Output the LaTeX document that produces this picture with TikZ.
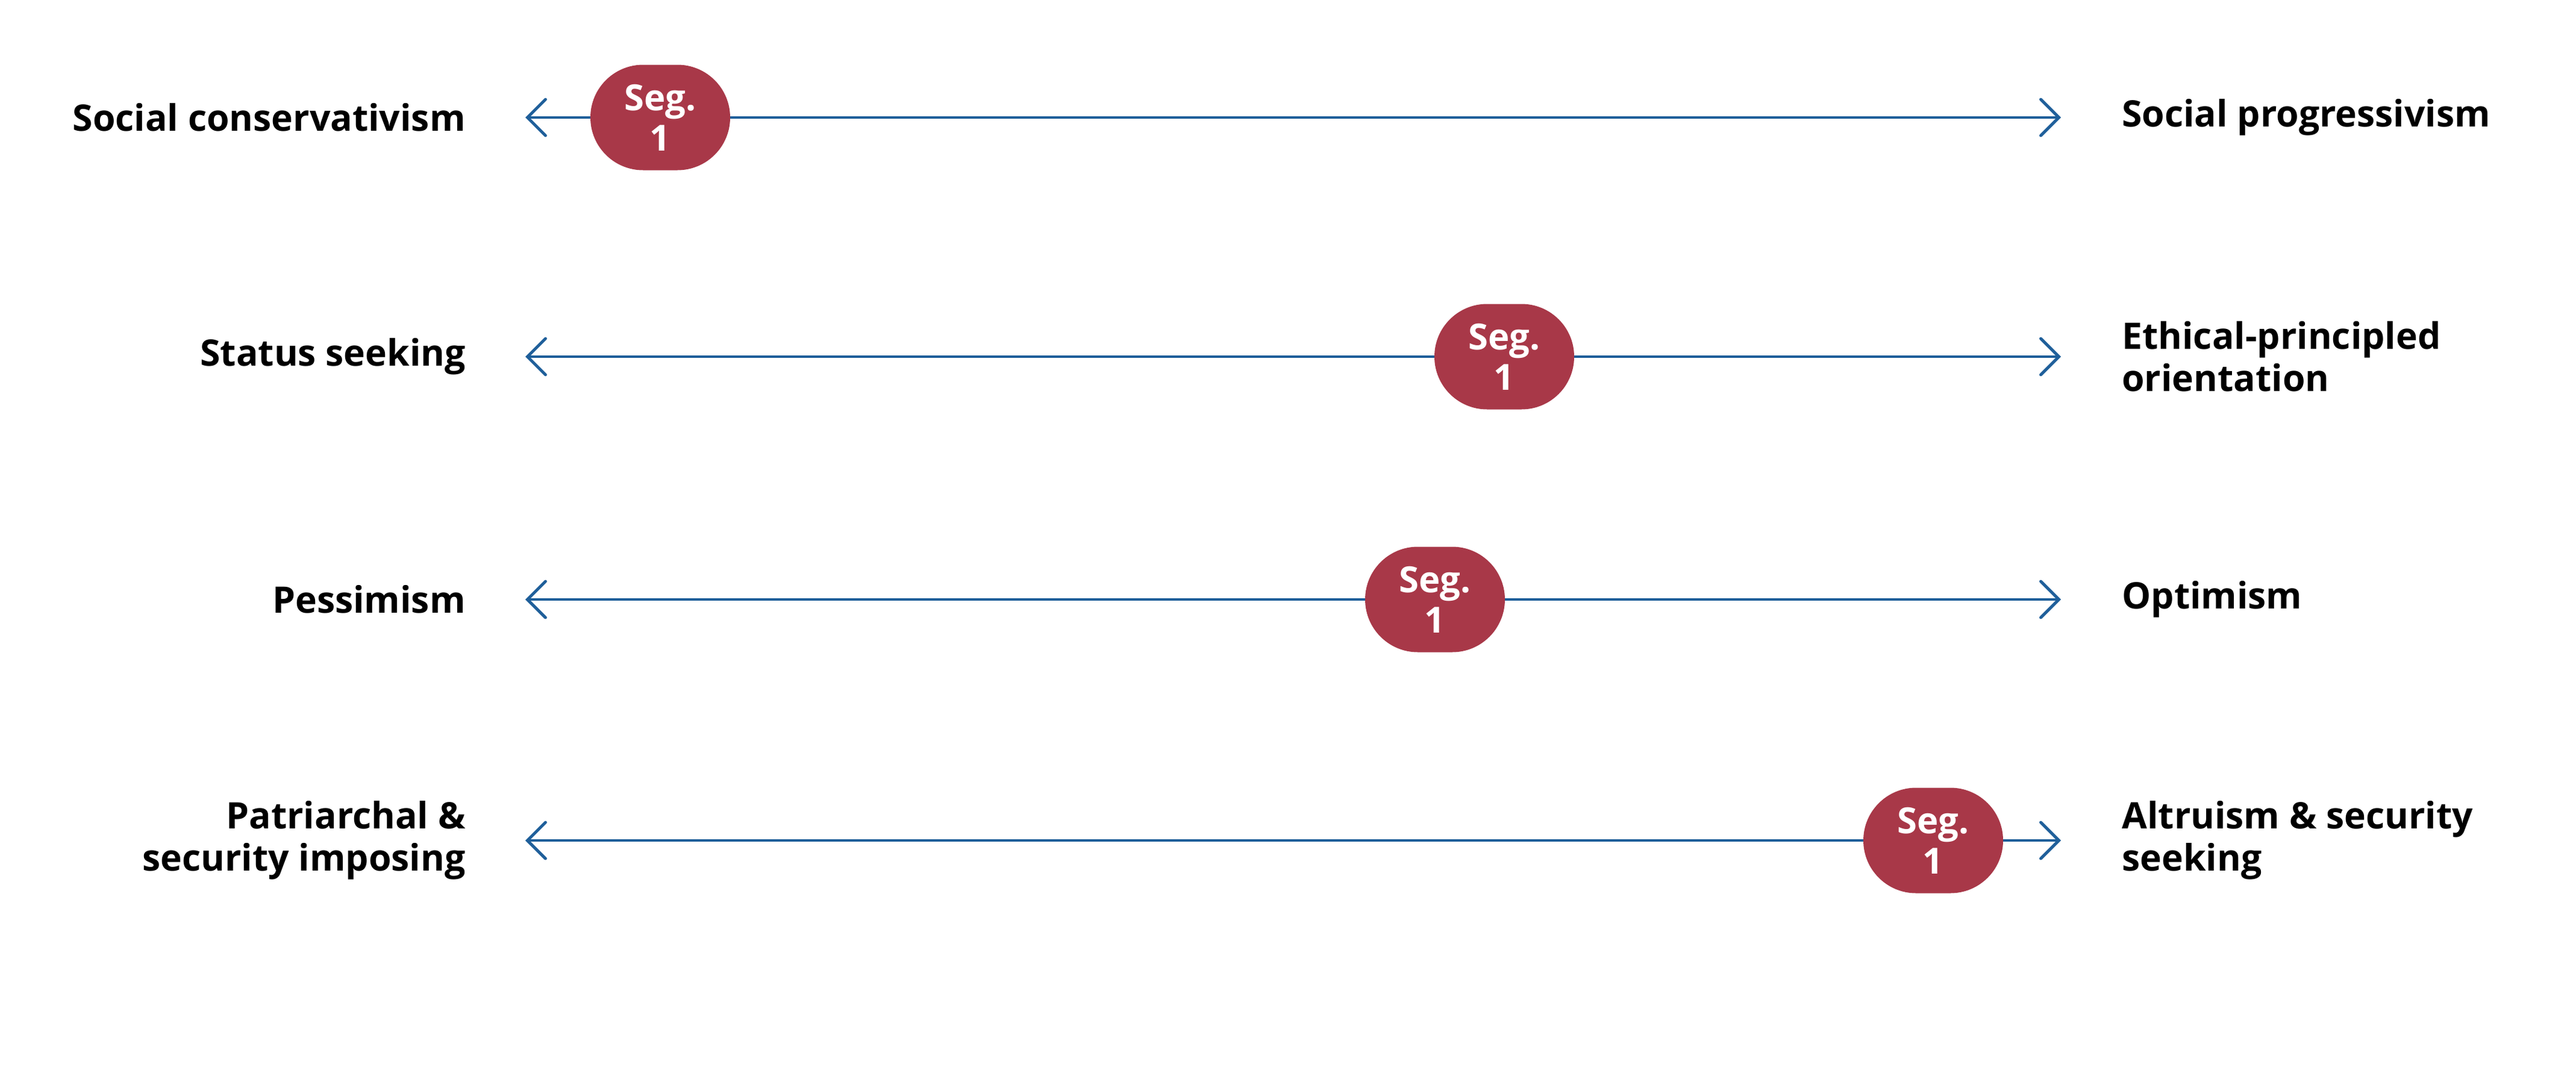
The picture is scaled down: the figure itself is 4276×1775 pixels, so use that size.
\documentclass[tikz,border=0pt]{standalone}
\usepackage{fontspec}
\setmainfont{Open Sans}
\usetikzlibrary{shapes.misc,arrows.meta}
\definecolor{pill}{HTML}{A83848}
\definecolor{axis}{HTML}{1F5F9A}
\tikzset{
  lbl/.style={font=\bfseries\fontsize{34.5}{40}\selectfont, inner sep=0pt},
  llbl/.style={lbl, anchor=east, align=right},
  rlbl/.style={lbl, anchor=west, align=left},
  seg/.style={rounded rectangle, fill=pill, text=white, minimum width=232*0.02cm, minimum height=175*0.02cm, inner sep=0pt, align=center, font=\bfseries\fontsize{34}{38}\selectfont},
  ax/.style={draw=axis, line width=2.8pt, {Straight Barb[length=0.6cm,width=1.2cm,line cap=round]}-{Straight Barb[length=0.6cm,width=1.2cm,line cap=round]}}
}
\begin{document}
\begin{tikzpicture}[x=0.02cm,y=-0.02cm]
\useasboundingbox (0,0) rectangle (4276,1775);
\foreach \i/\y/\px/\l/\r in {1/195/1096/Social conservativism/Social progressivism,
  2/592/2497/Status seeking/Ethical-principled\\orientation,
  3/995/2382/Pessimism/Optimism,
  4/1395/3209/Patriarchal \&\\security imposing/Altruism \& security\\seeking}{
  \coordinate (a\i) at (872,\y);
  \coordinate (b\i) at (3421,\y);
  \draw[ax] (a\i) -- (b\i);
  \node[seg] (s\i) at (\px,\y) {Seg.\\1};
  \node[llbl] (l\i) at (773,\y) {\l};
  \node[rlbl] (r\i) at (3522,\y) {\r};
}
\end{tikzpicture}
\end{document}
